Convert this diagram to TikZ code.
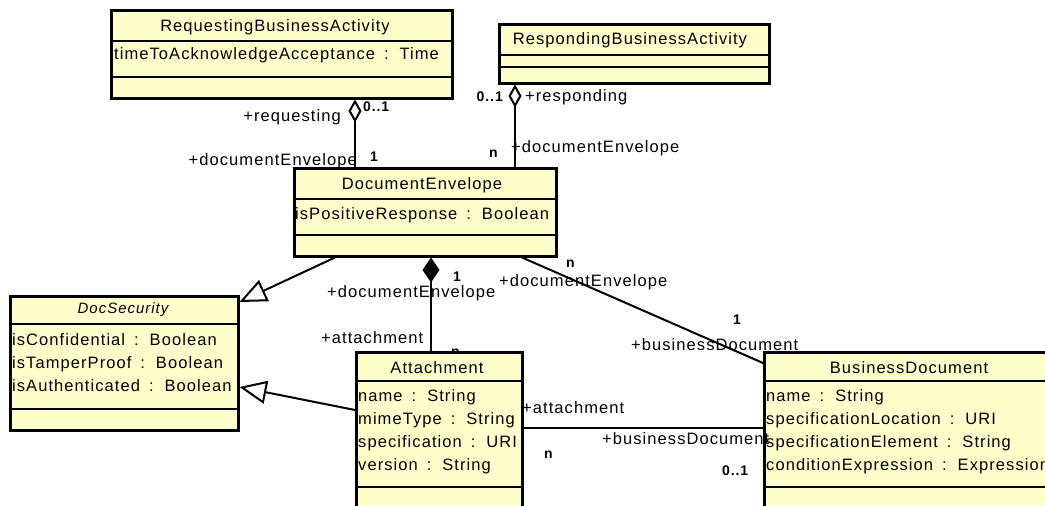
\documentclass[tikz,border=0pt]{standalone}
\usepackage{fontspec}
\setmainfont{Liberation Sans}[LetterSpace=6.5, WordSpace=1.6]
\usetikzlibrary{arrows.meta}
\definecolor{clsfill}{RGB}{255,255,204}
\begin{document}
\begin{tikzpicture}[x=1pt,y=-1pt,
  cls/.style={draw, fill=clsfill, line width=2.5pt, inner sep=0pt, anchor=north west},
  sepline/.style={line width=2.5pt},
  txt/.style={inner sep=0pt, font=\fontsize{16.5pt}{19pt}\selectfont, anchor=base west},
  ttl/.style={inner sep=0pt, font=\fontsize{16.5pt}{19pt}\selectfont, anchor=base},
  rtxt/.style={inner sep=0pt, font=\fontsize{16.5pt}{19pt}\selectfont, anchor=base east},
  mult/.style={inner sep=0pt, font=\fontsize{14pt}{16pt}\selectfont\bfseries, anchor=base west},
  rmult/.style={inner sep=0pt, font=\fontsize{14pt}{16pt}\selectfont\bfseries, anchor=base east},
  conn/.style={line width=2pt},
  aggr/.style={conn, -{Diamond[fill=white, length=23pt, width=13pt]}},
  comp/.style={conn, -{Diamond[fill=black, length=25pt, width=17pt]}},
  gen/.style={conn, -{Triangle[fill=white, length=27pt, width=23pt]}},
]
\useasboundingbox (0,0) rectangle (1045,506);
\clip (0,0) rectangle (1045,506);

% label hidden under the Attachment box
\node[mult] (lnatt) at (451,356) {n};

% class boxes
\node[cls, minimum width=341pt, minimum height=88pt] (req) at (110,9) {};
\draw[sepline] (req.west |- 0,41) -- (req.east |- 0,41);
\draw[sepline] (req.west |- 0,77) -- (req.east |- 0,77);
\node[ttl] (reqt) at (275,31) {RequestingBusinessActivity};
\node[txt] (reqa) at (114,59) {timeToAcknowledgeAcceptance : Time};

\node[cls, minimum width=270pt, minimum height=59pt] (resp) at (498,23) {};
\draw[sepline] (resp.west |- 0,55) -- (resp.east |- 0,55);
\draw[sepline] (resp.west |- 0,67) -- (resp.east |- 0,67);
\node[ttl] (respt) at (630,45) {RespondingBusinessActivity};

\node[cls, minimum width=262pt, minimum height=88pt] (env) at (293,167) {};
\draw[sepline] (env.west |- 0,199) -- (env.east |- 0,199);
\draw[sepline] (env.west |- 0,235) -- (env.east |- 0,235);
\node[ttl] (envt) at (422,189) {DocumentEnvelope};
\node[txt] (enva) at (295,219) {isPositiveResponse : Boolean};

\node[cls, minimum width=228pt, minimum height=134pt] (sec) at (9,295) {};
\draw[sepline] (sec.west |- 0,324) -- (sec.east |- 0,324);
\draw[sepline] (sec.west |- 0,409) -- (sec.east |- 0,409);
\node[ttl, font=\fontsize{15pt}{17pt}\selectfont\itshape] (sect) at (123,313) {DocSecurity};
\node[txt] (seca1) at (12,345) {isConfidential : Boolean};
\node[txt] (seca2) at (12,368) {isTamperProof : Boolean};
\node[txt] (seca3) at (12,391) {isAuthenticated : Boolean};

\node[cls, minimum width=166pt, minimum height=180pt] (att) at (355,351) {};
\draw[sepline] (att.west |- 0,381) -- (att.east |- 0,381);
\draw[sepline] (att.west |- 0,487) -- (att.east |- 0,487);
\node[ttl] (attt) at (437,373) {Attachment};
\node[txt] (atta1) at (358,401) {name : String};
\node[txt] (atta2) at (358,424) {mimeType : String};
\node[txt] (atta3) at (358,447) {specification : URI};
\node[txt] (atta4) at (358,470) {version : String};

\node[cls, minimum width=320pt, minimum height=180pt] (bd) at (763,351) {};
\draw[sepline] (bd.west |- 0,381) -- (bd.east |- 0,381);
\draw[sepline] (bd.west |- 0,487) -- (bd.east |- 0,487);
\node[ttl] (bdt) at (909,373) {BusinessDocument};
\node[txt] (bda1) at (766,401) {name : String};
\node[txt] (bda2) at (766,424) {specificationLocation : URI};
\node[txt] (bda3) at (766,447) {specificationElement : String};
\node[txt] (bda4) at (766,470) {conditionExpression : Expression};

% connectors
\draw[aggr] (env.north -| 355,0) -- (req.south -| 355,0);
\draw[aggr] (env.north -| 515,0) -- (resp.south -| 515,0);
\draw[comp] (att.north -| 431,0) -- (env.south -| 431,0);
\draw[gen] (env.south -| 335,0) -- (sec.east |- 0,302);
\draw[gen] (att.west |- 0,410) -- (sec.east |- 0,387);
\draw[conn] (env.south -| 522,0) -- (bd.west |- 0,363);
\draw[conn] (att.east |- 0,428) -- (bd.west |- 0,428);

% connector labels
\node[rtxt] (l1) at (341,121) {+requesting};
\node[mult] (l2) at (363,111) {0..1};
\node[rtxt] (l3) at (357,165) {+documentEnvelope};
\node[mult] (l4) at (370,161) {1};

\node[rmult] (l5) at (503,101) {0..1};
\node[txt] (l6) at (525,101) {+responding};
\node[mult] (l7) at (489,157) {n};
\node[txt] (l8) at (511,152) {+documentEnvelope};

\node[mult] (l9) at (453,281) {1};
\node[txt] (l10) at (327,297) {+documentEnvelope};
\node[txt] (l11) at (321,343) {+attachment};

\node[mult] (l12) at (566,267) {n};
\node[txt] (l13) at (499,286) {+documentEnvelope};
\node[mult] (l14) at (733,324) {1};
\node[txt] (l15) at (631,350) {+businessDocument};

\node[txt] (l16) at (522,413) {+attachment};
\node[txt] (l17) at (602,444) {+businessDocument};
\node[mult] (l18) at (544,458) {n};
\node[mult] (l19) at (722,475) {0..1};
\end{tikzpicture}
\end{document}
